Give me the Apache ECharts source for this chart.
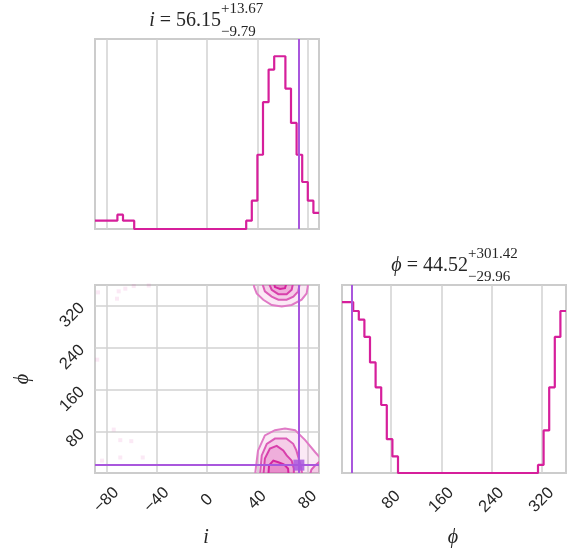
<!DOCTYPE html>
<html>
<head>
<meta charset="utf-8">
<script src="https://cdn.jsdelivr.net/npm/echarts@6/dist/echarts.min.js"></script>
<style>
  html, body { margin: 0; padding: 0; background: #ffffff; }
  #chart { width: 575px; height: 548px; }
</style>
</head>
<body>
<div id="chart"></div>
<script>
// ---- parameter ranges and ticks ----
const iRange = [-89, 89];
const phiRange = [1.5, 359];
const iTicks = [-80, -40, 0, 40, 80];
const phiTicks = [80, 160, 240, 320];

// ---- 1D marginal histograms (40 bins each, scaled so the peak is 100) ----
const iHist = [
  4.8, 4.8, 4.8, 4.8, 8.3, 4.8, 4.8, 0, 0, 0,
  0, 0, 0, 0, 0, 0, 0, 0, 0, 0,
  0, 0, 0, 0, 0, 0, 0, 4.8, 16.4, 43,
  73.4, 92.3, 100, 100, 81.3, 61.4, 43, 27.2, 16.4, 9.3
];
const phiHist = [
  100, 100, 94.8, 89.7, 79.6, 64.7, 50.1, 39.8, 19.8, 9.7,
  0, 0, 0, 0, 0, 0, 0, 0, 0, 0,
  0, 0, 0, 0, 0, 0, 0, 0, 0, 0,
  0, 0, 0, 0, 0, 4.7, 24.9, 50.1, 79.6, 94.8
];

// ---- reference (true) values ----
const truthI = 73;
const truthPhi = 16.5;

// ---- summary titles ----
const iMedian = '56.15', iPlus = '+13.67', iMinus = '\u22129.79';
const phiMedian = '44.52', phiPlus = '+301.42', phiMinus = '\u221229.96';

// ---- 2D density contours (i, phi), outer level first ----
const contourLevel1 = [
  [[38, -5], [40.5, 44], [46, 73], [54, 83], [62, 86], [70, 83], [78, 64], [86, 41], [92, 25], [95, -5]],
  [[36.8, 365], [37.5, 355], [39.5, 343], [44.7, 331], [51.4, 321], [59.4, 318], [67.3, 321], [75.2, 331], [79.2, 343], [80, 355], [80.5, 365]]
];
const contourLevel2 = [
  [[42, -5], [43.5, 35], [47.5, 57], [54, 67], [63, 67], [68.5, 57], [71, 44.5], [72.5, 32], [74.5, 15], [76, -5]],
  [[81.5, -5], [83, 8], [86, 16], [89, 22], [95, 25], [95, -5]],
  [[43.5, 365], [46, 347], [51.4, 337], [56.7, 331], [63.3, 331], [68.6, 337], [72.5, 347], [74, 365]]
];
const contourLevel3 = [
  [[44.7, -5], [46, 29], [50, 48], [55.4, 53], [60.6, 44.5], [63.3, 35], [67.3, 25], [69, 10], [69, -5]],
  [[48.7, 365], [51.4, 350], [56.7, 341.5], [63.3, 341.5], [67.3, 350], [68.6, 365]]
];
const contourLevel4 = [
  [[48.7, -5], [49.3, 16], [52.7, 25], [56.7, 22], [61, 18], [64.4, 10], [65, -5]],
  [[53, 365], [54, 355], [58, 351.5], [62, 353], [63.5, 365]]
];

// ---- isolated samples outside the contours ----
const sparseSamples = [
  [-86.6, 345], [-70.2, 347], [-64.9, 352], [-58.2, 357], [-71.5, 333], [-46.3, 358],
  [-74.1, 84], [-68.9, 64], [-60.2, 62], [-68.9, 31], [-51.1, 31], [-83.4, 25], [-87.2, 217]
];

// ---- styling ----
const histColor = '#d61f9b';
const truthColor = '#a957dd';
const gridColor = '#d2d2d2';
const tickFont = 'Liberation Sans, Arial, sans-serif';
const mathFont = 'Liberation Serif, Times New Roman, serif';
const levelFill = ['rgba(214,36,159,0.10)', 'rgba(214,36,159,0.14)', 'rgba(214,36,159,0.18)', 'rgba(214,36,159,0.24)'];
const levelStroke = ['#e07ac6', '#dc5cb8', '#d840ab', '#d4259e'];

// step-histogram vertices from bin counts
function stepData(counts, range) {
  const n = counts.length;
  const w = (range[1] - range[0]) / n;
  const pts = counts.map((c, k) => [range[0] + k * w, c]);
  pts.push([range[1], counts[n - 1]]);
  return pts;
}

const minus = v => (v < 0 ? '\u2212' + (-v) : String(v));

const polygons = [];
[contourLevel1, contourLevel2, contourLevel3, contourLevel4].forEach((lvl, li) => {
  lvl.forEach(poly => polygons.push({ level: li, points: poly }));
});

function valueAxis(gridIndex, range, ticks, showLabels, isY) {
  return {
    type: 'value',
    gridIndex,
    min: range[0],
    max: range[1],
    axisLine: { show: false },
    axisTick: { show: false, customValues: ticks },
    axisLabel: {
      show: showLabels,
      customValues: ticks,
      formatter: minus,
      rotate: 45,
      fontFamily: tickFont,
      fontSize: 16.5,
      color: '#262626',
      align: isY ? 'right' : 'center',
      verticalAlign: 'middle',
      margin: isY ? 13 : 27
    },
    splitLine: { show: true, lineStyle: { color: gridColor, width: 1.5 } }
  };
}

function countAxis(gridIndex) {
  return {
    type: 'value', gridIndex, min: 0, max: 110,
    axisLine: { show: false }, axisTick: { show: false },
    axisLabel: { show: false }, splitLine: { show: false }
  };
}

const gridBase = { show: true, borderColor: '#cccccc', borderWidth: 2, backgroundColor: 'transparent' };
const truthLineStyle = { color: truthColor, width: 2, type: 'solid', opacity: 1 };
const markLineBase = { silent: true, symbol: ['none', 'none'], label: { show: false }, lineStyle: truthLineStyle, animation: false };

const titleMain = (x, y, sym, val) => ({
  type: 'text', x, y,
  style: {
    text: '{it|' + sym + '} = ' + val,
    rich: { it: { fontStyle: 'italic', fontFamily: mathFont, fontSize: 20 } },
    font: '20px ' + mathFont, fill: '#262626', align: 'right', verticalAlign: 'middle'
  }
});
const titleScript = (x, y, txt) => ({
  type: 'text', x, y,
  style: { text: txt, font: '15px ' + mathFont, fill: '#262626', align: 'left', verticalAlign: 'middle' }
});

const chart = echarts.init(document.getElementById('chart'), null, { renderer: 'canvas' });
chart.setOption({
  animation: false,
  backgroundColor: '#ffffff',
  grid: [
    Object.assign({ left: 95, top: 39, width: 224, height: 190 }, gridBase),
    Object.assign({ left: 95, top: 285, width: 224, height: 188 }, gridBase),
    Object.assign({ left: 342, top: 285, width: 224, height: 188 }, gridBase)
  ],
  xAxis: [
    valueAxis(0, iRange, iTicks, false, false),
    valueAxis(1, iRange, iTicks, true, false),
    valueAxis(2, phiRange, phiTicks, true, false)
  ],
  yAxis: [
    countAxis(0),
    valueAxis(1, phiRange, phiTicks, true, true),
    countAxis(2)
  ],
  series: [
    {
      type: 'line', xAxisIndex: 0, yAxisIndex: 0,
      data: stepData(iHist, iRange), step: 'end', showSymbol: false,
      lineStyle: { color: histColor, width: 2.2 },
      markLine: Object.assign({ data: [{ xAxis: truthI }] }, markLineBase)
    },
    {
      type: 'line', xAxisIndex: 2, yAxisIndex: 2,
      data: stepData(phiHist, phiRange), step: 'end', showSymbol: false,
      lineStyle: { color: histColor, width: 2.2 },
      markLine: Object.assign({ data: [{ xAxis: truthPhi }] }, markLineBase)
    },
    {
      type: 'scatter', xAxisIndex: 1, yAxisIndex: 1,
      data: sparseSamples, symbol: 'rect', symbolSize: 4,
      itemStyle: { color: 'rgba(214,36,159,0.13)' }, silent: true
    },
    {
      type: 'custom', xAxisIndex: 1, yAxisIndex: 1, clip: true,
      data: polygons.map((p, k) => [k]),
      renderItem(params, api) {
        const poly = polygons[params.dataIndex];
        return {
          type: 'polygon',
          shape: { points: poly.points.map(p => api.coord(p)) },
          style: { fill: levelFill[poly.level], stroke: levelStroke[poly.level], lineWidth: 2 }
        };
      },
      silent: true
    },
    {
      type: 'scatter', xAxisIndex: 1, yAxisIndex: 1,
      data: [[truthI, truthPhi]], symbol: 'rect', symbolSize: 11,
      itemStyle: { color: truthColor, opacity: 0.85 }, z: 5,
      markLine: Object.assign({ data: [{ xAxis: truthI }, { yAxis: truthPhi }] }, markLineBase)
    }
  ],
  graphic: [
    // title above the i marginal
    titleMain(221, 21, 'i', iMedian),
    titleScript(221, 9, iPlus),
    titleScript(221, 32, iMinus),
    // title above the phi marginal
    titleMain(468, 266, '\u03D5', phiMedian),
    titleScript(468, 254, phiPlus),
    titleScript(468, 277, phiMinus),
    // axis names
    { type: 'text', x: 206, y: 538, style: { text: 'i', font: 'italic 20px ' + mathFont, fill: '#262626', align: 'center', verticalAlign: 'middle' } },
    { type: 'text', x: 453, y: 538, style: { text: '\u03D5', font: 'italic 20px ' + mathFont, fill: '#262626', align: 'center', verticalAlign: 'middle' } },
    { type: 'text', x: 23, y: 379, rotation: Math.PI / 2, style: { text: '\u03D5', font: 'italic 20px ' + mathFont, fill: '#262626', align: 'center', verticalAlign: 'middle' } }
  ]
});
</script>
</body>
</html>
